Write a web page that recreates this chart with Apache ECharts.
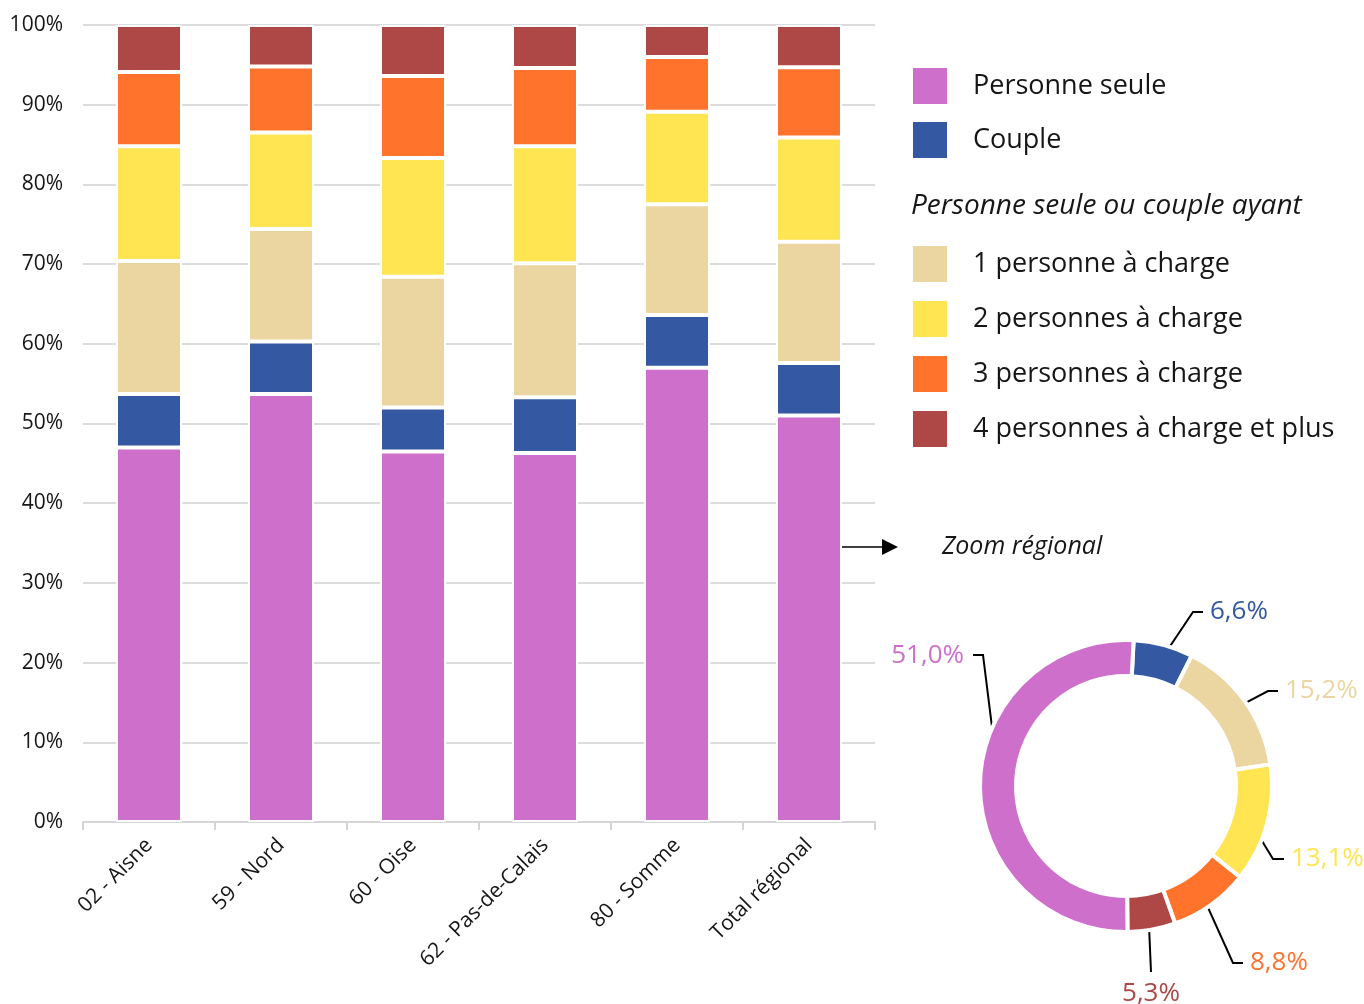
<!DOCTYPE html>
<html>
<head>
<meta charset="utf-8">
<script src="https://cdn.jsdelivr.net/npm/echarts@6/dist/echarts.min.js"></script>
<style>
html,body{margin:0;padding:0;background:#fff;}
#chart{width:1364px;height:1004px;}
</style>
</head>
<body>
<div id="chart"></div>
<script>
// ---- data ----
const categories = ['02 - Aisne', '59 - Nord', '60 - Oise', '62 - Pas-de-Calais', '80 - Somme', 'Total régional'];
const seriesNames = ['Personne seule', 'Couple', '1 personne à charge', '2 personnes à charge', '3 personnes à charge', '4 personnes à charge et plus'];
const personneSeule = [47.0, 53.7, 46.5, 46.3, 57.0, 51.0];
const couple        = [6.7, 6.6, 5.5, 7.0, 6.6, 6.6];
const unePers       = [16.7, 14.1, 16.4, 16.8, 13.9, 15.2];
const deuxPers      = [14.4, 12.1, 14.9, 14.7, 11.6, 13.1];
const troisPers     = [9.3, 8.3, 10.3, 9.8, 6.9, 8.8];
const quatrePers    = [5.9, 5.2, 6.4, 5.4, 4.0, 5.3];
// regional zoom (donut)
const regionalValues = [51.0, 6.6, 15.2, 13.1, 8.8, 5.3];
const yTicks = [0, 10, 20, 30, 40, 50, 60, 70, 80, 90, 100];

// ---- styles ----
const colors = ['#CE70CB', '#3459A2', '#EBD6A2', '#FFE552', '#FF732C', '#AD4847'];
const FONT = '"Open Sans", "Noto Sans", sans-serif';
const TXT = '#161616';

const barData = [personneSeule, couple, unePers, deuxPers, troisPers, quatrePers];

// pie order: clockwise from top, couple first, personne seule last
const pieOrder = [1, 2, 3, 4, 5, 0];
const pieData = pieOrder.map(i => ({ name: seriesNames[i], value: regionalValues[i], itemStyle: { color: colors[i] } }));
const pieLabelData = pieOrder.map(i => ({
  name: seriesNames[i], value: regionalValues[i],
  itemStyle: { color: 'rgba(0,0,0,0)' },
  label: { color: colors[i] }
}));

// label placement (annotation layout): elbow, end, text position
const labelPlaces = [
  { elbow: [1193, 612], end: [1203, 612], text: [1210, 612], align: 'left' },
  { elbow: [1268, 691], end: [1278, 691], text: [1285, 691], align: 'left' },
  { elbow: [1273, 859], end: [1284, 859], text: [1291, 859], align: 'left' },
  { elbow: [1233, 963], end: [1243, 963], text: [1250, 963], align: 'left' },
  { elbow: [1151, 972], end: [1151, 972], text: [1151, 994], align: 'center' },
  { elbow: [983, 655], end: [973, 655], text: [964, 656], align: 'right' }
];

const series = barData.map((arr, i) => ({
  name: seriesNames[i],
  type: 'bar',
  stack: 'total',
  data: arr,
  barWidth: 66,
  itemStyle: { color: colors[i], borderColor: '#fff', borderWidth: 2 },
  emphasis: { disabled: true }
}));

series.push({
  type: 'pie',
  name: 'regional',
  center: [1126, 786],
  radius: [110, 146],
  startAngle: 87,
  clockwise: true,
  silent: true,
  label: { show: false },
  labelLine: { show: false },
  itemStyle: { borderColor: '#fff', borderWidth: 4 },
  emphasis: { disabled: true },
  data: pieData
});

series.push({
  type: 'pie',
  name: 'regionalLabels',
  center: [1126, 786],
  radius: [0, 127],
  startAngle: 87,
  clockwise: true,
  silent: true,
  avoidLabelOverlap: false,
  emphasis: { disabled: true },
  label: {
    show: true,
    position: 'outside',
    fontSize: 26,
    fontFamily: FONT,
    formatter: p => p.value.toFixed(1).replace('.', ',') + '%'
  },
  labelLine: { show: true, length: 10, length2: 10, lineStyle: { color: '#000', width: 2 } },
  labelLayout: function (params) {
    const pl = labelPlaces[params.dataIndex];
    const start = params.labelLinePoints ? params.labelLinePoints[0] : pl.elbow;
    return {
      x: pl.text[0], y: pl.text[1],
      align: pl.align, verticalAlign: 'middle',
      labelLinePoints: [start, pl.elbow, pl.end]
    };
  },
  data: pieLabelData
});

const chart = echarts.init(document.getElementById('chart'), null, { renderer: 'canvas' });
chart.setOption({
  animation: false,
  backgroundColor: '#fff',
  textStyle: { fontFamily: FONT },
  grid: { left: 83, right: 489, top: 25, bottom: 182, containLabel: false },
  xAxis: {
    type: 'category',
    data: categories,
    axisLine: { lineStyle: { color: '#d5d5d5', width: 2 } },
    axisTick: { show: true, length: 8, lineStyle: { color: '#d5d5d5', width: 2 } },
    axisLabel: { rotate: 45, fontSize: 21, color: TXT, fontFamily: FONT, margin: 20, interval: 0 }
  },
  yAxis: {
    type: 'value',
    min: 0, max: 100, interval: 10,
    axisLine: { show: false },
    axisTick: { show: false },
    splitLine: { lineStyle: { color: '#dcdcdc', width: 2 } },
    axisLabel: { fontSize: 21, color: TXT, fontFamily: FONT, margin: 20, formatter: v => yTicks.includes(v) ? v + '%' : '' }
  },
  legend: [
    {
      orient: 'vertical', left: 911, top: 66, itemWidth: 36, itemHeight: 38, itemGap: 14,
      icon: 'rect', padding: 0,
      data: seriesNames.slice(0, 2),
      textStyle: { fontSize: 27, color: TXT, fontFamily: FONT, padding: [0, 0, 0, 20] }
    },
    {
      orient: 'vertical', left: 911, top: 244, itemWidth: 36, itemHeight: 38, itemGap: 15,
      icon: 'rect', padding: 0,
      data: seriesNames.slice(2),
      textStyle: { fontSize: 27, color: TXT, fontFamily: FONT, padding: [0, 0, 0, 20] }
    }
  ],
  title: [
    { text: 'Personne seule ou couple ayant', left: 911, top: 192, padding: 0,
      textStyle: { fontSize: 28, fontStyle: 'italic', fontWeight: 'normal', color: TXT, fontFamily: FONT } },
    { text: 'Zoom régional', left: 942, top: 534, padding: 0,
      textStyle: { fontSize: 25, fontStyle: 'italic', fontWeight: 'normal', color: TXT, fontFamily: FONT } }
  ],
  graphic: [
    { type: 'line', shape: { x1: 840, y1: 547, x2: 886, y2: 547 }, style: { stroke: '#000', lineWidth: 1.5 } },
    { type: 'polygon', shape: { points: [[882, 539], [898, 547], [882, 555]] }, style: { fill: '#000' } }
  ],
  series: series
});
</script>
</body>
</html>
